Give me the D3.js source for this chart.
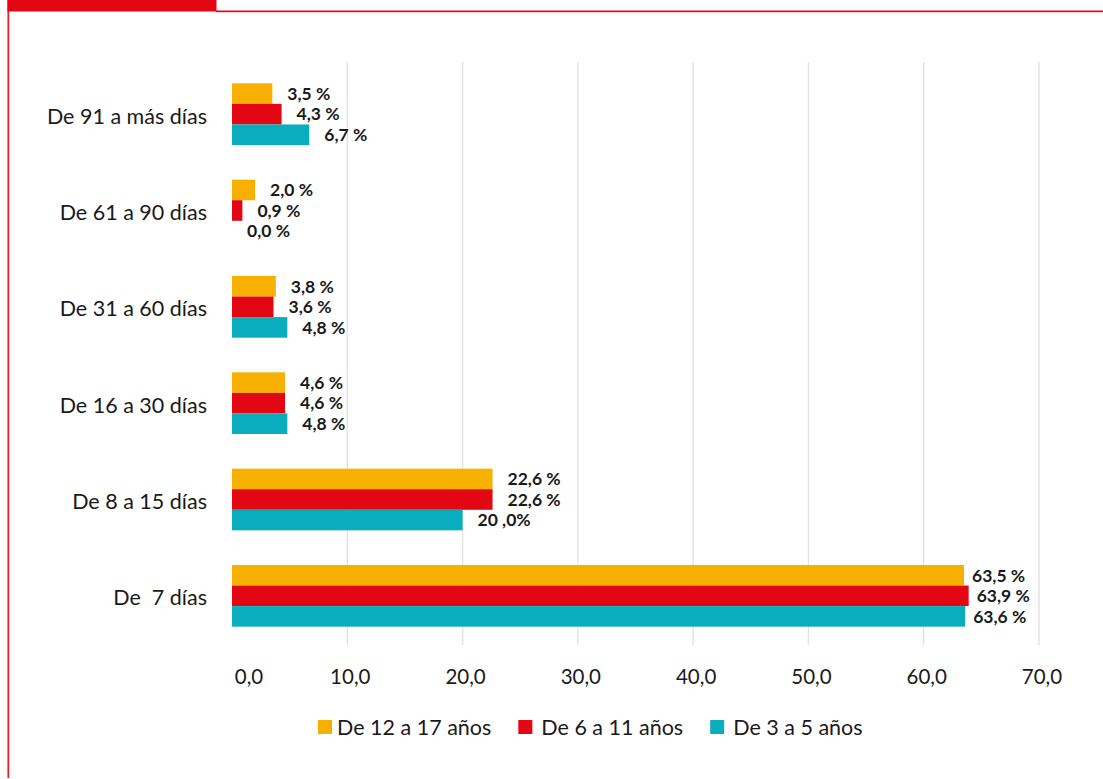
<!doctype html>
<html lang="es">
<head>
<meta charset="utf-8">
<title>Días</title>
<style>
body { margin: 0; background: #fff; font-family: Lato, "Open Sans", sans-serif; }
svg text { fill: #1a1a1a; }
</style>
</head>
<body>
<svg id="chart" width="1103" height="779"></svg>
<script src="https://d3js.org/d3.v7.min.js"></script>
<script>
var categories = ["De 91 a más días", "De 61 a 90 días", "De 31 a 60 días", "De 16 a 30 días", "De 8 a 15 días", "De  7 días"];
var series = ["De 12 a 17 años", "De 6 a 11 años", "De 3 a 5 años"];
var colors = ["#f8b000", "#e30613", "#0aadbd"];

var values12a17 = [3.5, 2.0, 3.8, 4.6, 22.6, 63.5];
var values6a11  = [4.3, 0.9, 3.6, 4.6, 22.6, 63.9];
var values3a5   = [6.7, 0.0, 4.8, 4.8, 20.0, 63.6];

var labels12a17 = ["3,5 %", "2,0 %", "3,8 %", "4,6 %", "22,6 %", "63,5 %"];
var labels6a11  = ["4,3 %", "0,9 %", "3,6 %", "4,6 %", "22,6 %", "63,9 %"];
var labels3a5   = ["6,7 %", "0,0 %", "4,8 %", "4,8 %", "20 ,0%", "63,6 %"];

var ticks = [0, 10, 20, 30, 40, 50, 60, 70];
var tickLabels = ["0,0", "10,0", "20,0", "30,0", "40,0", "50,0", "60,0", "70,0"];

var allValues = [values12a17, values6a11, values3a5];
var allLabels = [labels12a17, labels6a11, labels3a5];

var rows = [];
categories.forEach(function(c, i) {
    series.forEach(function(s, j) {
        rows.push({cat: c, ser: s, value: allValues[j][i], label: allLabels[j][i], color: colors[j]});
    });
});

var svg = d3.select("#chart");

// frame
var red = "#e30613";
svg.append("rect").attr("x", 7.5).attr("y", 0).attr("width", 209).attr("height", 11.5).attr("fill", red);
svg.append("line").attr("x1", 216).attr("x2", 1103).attr("y1", 11.3).attr("y2", 11.3)
    .attr("stroke", red).attr("stroke-width", 1.4);
svg.append("line").attr("x1", 216).attr("x2", 1103).attr("y1", 12.6).attr("y2", 12.6)
    .attr("stroke", "#f6b7ba").attr("stroke-width", 0.8);
svg.append("line").attr("x1", 8.2).attr("x2", 8.2).attr("y1", 0).attr("y2", 778)
    .attr("stroke", red).attr("stroke-width", 1.4);
svg.append("line").attr("x1", 9.5).attr("x2", 9.5).attr("y1", 12).attr("y2", 778)
    .attr("stroke", "#f6b7ba").attr("stroke-width", 0.8);

var x = d3.scaleLinear().domain([0, 70]).range([232, 1039]);
var y = d3.scaleBand().domain(categories).range([66, 644]).paddingInner(0.36).paddingOuter(0.18);
var ySub = d3.scaleBand().domain(series).range([0, y.bandwidth()]);

// gridlines
svg.append("g").selectAll("line")
    .data(ticks.filter(function(t) { return t > 0; }))
    .join("line")
    .attr("x1", function(d) { return x(d); })
    .attr("x2", function(d) { return x(d); })
    .attr("y1", 62).attr("y2", 645)
    .attr("stroke", "#e4e2de").attr("stroke-width", 1.4);

// tick labels
svg.append("g").selectAll("text")
    .data(ticks)
    .join("text")
    .attr("x", function(d) { return x(d) + (d === 0 ? 17 : 3); })
    .attr("y", 677)
    .attr("dy", "0.35em")
    .attr("text-anchor", "middle")
    .style("font-size", "20.5px")
    .text(function(d, i) { return tickLabels[i]; });

// category labels
svg.append("g").selectAll("text")
    .data(categories)
    .join("text")
    .attr("x", 207)
    .attr("y", function(d) { return y(d) + y.bandwidth() / 2 + 2; })
    .attr("dy", "0.35em")
    .attr("text-anchor", "end")
    .style("font-size", "21.5px")
    .style("white-space", "pre")
    .text(function(d) { return d; });

// bars
svg.append("g").selectAll("rect")
    .data(rows)
    .join("rect")
    .attr("x", x(0))
    .attr("y", function(d) { return y(d.cat) + ySub(d.ser); })
    .attr("width", function(d) { return x(d.value) - x(0); })
    .attr("height", ySub.bandwidth())
    .attr("fill", function(d) { return d.color; });

// value labels
svg.append("g").selectAll("text")
    .data(rows)
    .join("text")
    .attr("x", function(d) { return x(d.value) + (d.value > 60 ? 8 : 15); })
    .attr("y", function(d) { return y(d.cat) + ySub(d.ser) + ySub.bandwidth() / 2; })
    .attr("dy", "0.36em")
    .style("font-size", "17.5px")
    .style("font-weight", "bold")
    .text(function(d) { return d.label; });

// legend
var legend = svg.append("g").attr("transform", "translate(318,0)");
var items = legend.selectAll("g").data(series).join("g");
items.append("rect").attr("width", 14).attr("height", 14).attr("y", -7)
    .attr("fill", function(d, i) { return colors[i]; });
items.append("text").attr("x", function(d, i) { return i === 0 ? 19 : 23; }).attr("y", 0).attr("dy", "0.35em")
    .style("font-size", "21.5px")
    .text(function(d) { return d; });
var pos = 0;
items.each(function() {
    var w = this.getBBox().width;
    d3.select(this).attr("transform", "translate(" + pos + ",727)");
    pos += w + 27;
});
</script>
</body>
</html>
